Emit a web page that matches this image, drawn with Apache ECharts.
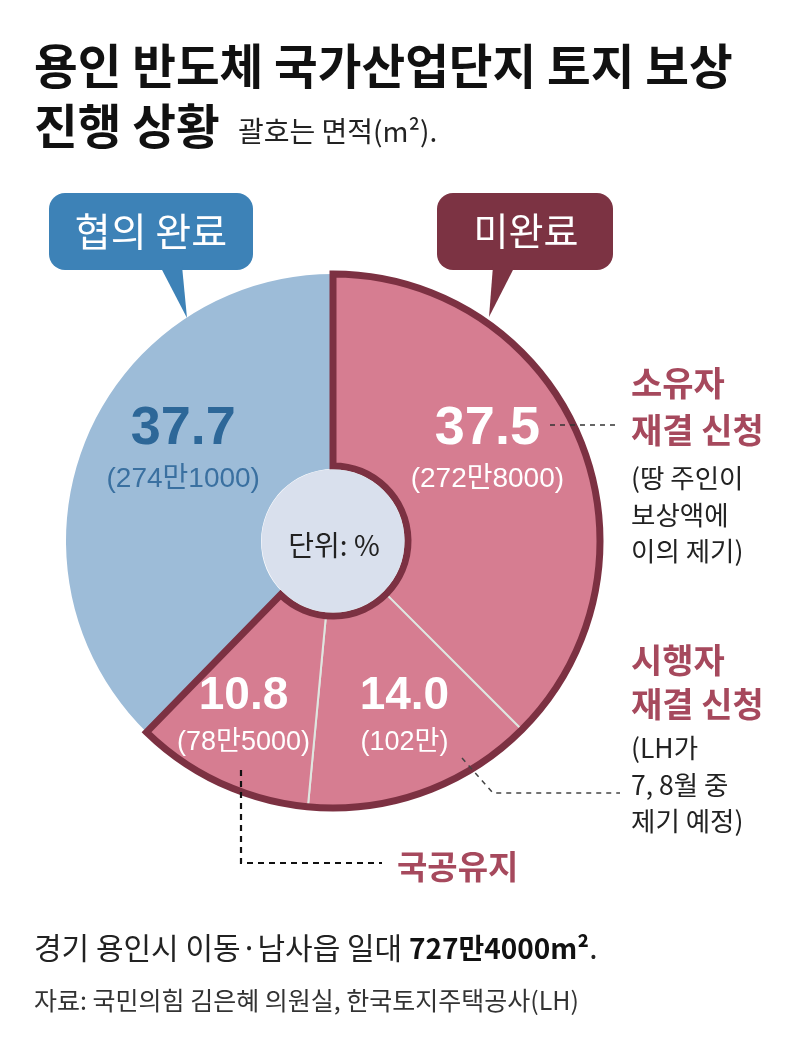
<!DOCTYPE html>
<html>
<head>
<meta charset="utf-8">
<script src="https://cdn.jsdelivr.net/npm/echarts@6/dist/echarts.min.js"></script>
<style>
  html, body { margin: 0; padding: 0; background: #fff; }
  #chart { width: 800px; height: 1064px; }
</style>
</head>
<body>
<div id="chart"></div>
<script>
// 진행 상황 (단위: %), 시계 방향으로 12시부터
const categories = ['소유자 재결 신청', '시행자 재결 신청', '국공유지', '협의 완료'];
const shares = [37.5, 14.0, 10.8, 37.7];
const areas = ['272만8000', '102만', '78만5000', '274만1000'];
const groups = ['미완료', '미완료', '미완료', '협의 완료'];
const groupNames = ['미완료', '협의 완료'];

const FONT = '"Noto Sans CJK KR", "Noto Sans", sans-serif';
const NUMFONT = '"Liberation Sans", "Noto Sans CJK KR", sans-serif';

const BLUE = '#9dbcd8';
const RED = '#d67d91';
const DARK = '#7c3142';

const chart = echarts.init(document.getElementById('chart'));

// 미완료 / 협의 완료 합계 (테두리용)
const groupTotals = groupNames.map(g =>
  shares.reduce((s, v, i) => (groups[i] === g ? s + v : s), 0)
);

const mainData = categories.map((name, i) => {
  const done = groups[i] === '협의 완료';
  const big = i === 0 || done;
  return {
    name: name,
    value: shares[i],
    itemStyle: {
      color: done ? BLUE : RED,
      borderColor: '#dfe6e0',
      borderWidth: done ? 0 : 2
    },
    label: {
      formatter: '{v|' + shares[i].toFixed(1) + '}\n{a|(' + areas[i] + ')}',
      rich: {
        v: {
          fontFamily: NUMFONT,
          fontWeight: 'bold',
          fontSize: big ? 54 : 46,
          lineHeight: big ? 66 : 58,
          color: done ? '#2d6798' : '#ffffff'
        },
        a: {
          fontFamily: NUMFONT,
          fontSize: big ? 28 : 27,
          lineHeight: 34,
          color: done ? '#3a70a0' : '#ffffff'
        }
      }
    }
  };
});

const labelShift = [[-5, -29], [13, 10], [-17, 16], [10, -30]];

const option = {
  backgroundColor: '#ffffff',
  animation: false,
  series: [
    {
      type: 'pie',
      silent: true,
      center: [333, 541],
      radius: [72, 267],
      startAngle: 90,
      clockwise: true,
      avoidLabelOverlap: false,
      label: { show: true, position: 'inside' },
      labelLine: { show: false },
      labelLayout: function (p) {
        const o = labelShift[p.dataIndex];
        return { dx: o[0], dy: o[1] };
      },
      data: mainData
    },
    {
      // 미완료 묶음 테두리
      type: 'pie',
      silent: true,
      center: [333, 541],
      radius: [75, 267],
      startAngle: 90,
      clockwise: true,
      label: { show: false },
      labelLine: { show: false },
      data: groupNames.map((g, i) => ({
        name: g,
        value: groupTotals[i],
        itemStyle: {
          color: 'rgba(0,0,0,0)',
          borderColor: DARK,
          borderWidth: g === '미완료' ? 7 : 0,
          borderJoin: 'miter'
        }
      }))
    }
  ],
  graphic: [
    // 제목
    { type: 'text', z: 100, style: { x: 34, y: 66, text: '용인 반도체 국가산업단지 토지 보상', font: 'bold 47.5px ' + FONT, fill: '#111', verticalAlign: 'middle' } },
    { type: 'text', z: 100, style: { x: 34, y: 126, text: '진행 상황', font: 'bold 47.5px ' + FONT, fill: '#111', verticalAlign: 'middle' } },
    { type: 'text', z: 100, style: { x: 238, y: 131, text: '괄호는 면적(m²).', font: '28px ' + FONT, fill: '#222', verticalAlign: 'middle' } },

    // 말풍선
    { type: 'rect', z: 100, shape: { x: 49, y: 193, width: 204, height: 77, r: 16 }, style: { fill: '#3d82b7' } },
    { type: 'polygon', z: 100, shape: { points: [[160, 266], [182, 266], [187, 318]] }, style: { fill: '#3d82b7' } },
    { type: 'text', z: 101, style: { x: 151, y: 231, text: '협의 완료', font: '39px ' + FONT, fill: '#fff', align: 'center', verticalAlign: 'middle' } },
    { type: 'rect', z: 100, shape: { x: 437, y: 193, width: 176, height: 77, r: 16 }, style: { fill: '#7c3343' } },
    { type: 'polygon', z: 100, shape: { points: [[493, 266], [515, 266], [489, 317]] }, style: { fill: '#7c3343' } },
    { type: 'text', z: 101, style: { x: 526, y: 231, text: '미완료', font: '38px ' + FONT, fill: '#fff', align: 'center', verticalAlign: 'middle' } },

    // 가운데 원
    { type: 'circle', z: 100, shape: { cx: 333, cy: 541, r: 71.5 }, style: { fill: '#d9e0ed' } },
    { type: 'text', z: 101, style: { x: 334, y: 545, text: '단위: %', font: '28px ' + FONT, fill: '#222', align: 'center', verticalAlign: 'middle' } },

    // 오른쪽 설명
    { type: 'text', z: 100, style: { x: 631, y: 383, text: '소유자', font: 'bold 34px ' + FONT, fill: '#a6495d', verticalAlign: 'middle' } },
    { type: 'text', z: 100, style: { x: 631, y: 430, text: '재결 신청', font: 'bold 34px ' + FONT, fill: '#a6495d', verticalAlign: 'middle' } },
    { type: 'text', z: 100, style: { x: 631, y: 478, text: '(땅 주인이', font: '26.5px ' + FONT, fill: '#222', verticalAlign: 'middle' } },
    { type: 'text', z: 100, style: { x: 631, y: 515, text: '보상액에', font: '26.5px ' + FONT, fill: '#222', verticalAlign: 'middle' } },
    { type: 'text', z: 100, style: { x: 631, y: 551, text: '이의 제기)', font: '26.5px ' + FONT, fill: '#222', verticalAlign: 'middle' } },

    { type: 'text', z: 100, style: { x: 631, y: 660, text: '시행자', font: 'bold 34px ' + FONT, fill: '#a6495d', verticalAlign: 'middle' } },
    { type: 'text', z: 100, style: { x: 631, y: 704, text: '재결 신청', font: 'bold 34px ' + FONT, fill: '#a6495d', verticalAlign: 'middle' } },
    { type: 'text', z: 100, style: { x: 631, y: 748, text: '(LH가', font: '26.5px ' + FONT, fill: '#222', verticalAlign: 'middle' } },
    { type: 'text', z: 100, style: { x: 631, y: 785, text: '7, 8월 중', font: '26.5px ' + FONT, fill: '#222', verticalAlign: 'middle' } },
    { type: 'text', z: 100, style: { x: 631, y: 821, text: '제기 예정)', font: '26.5px ' + FONT, fill: '#222', verticalAlign: 'middle' } },

    { type: 'text', z: 100, style: { x: 397, y: 866, text: '국공유지', font: 'bold 33px ' + FONT, fill: '#a6495d', verticalAlign: 'middle' } },

    // 점선
    { type: 'polyline', z: 100, shape: { points: [[550, 425], [620, 425]] }, style: { stroke: '#333', lineWidth: 1.3, lineDash: [5, 5], fill: null } },
    { type: 'polyline', z: 100, shape: { points: [[462, 758], [493, 793], [620, 793]] }, style: { stroke: '#444', lineWidth: 1.5, lineDash: [5, 5], fill: null } },
    { type: 'polyline', z: 100, shape: { points: [[241, 770], [241, 863], [382, 863]] }, style: { stroke: '#111', lineWidth: 2.2, lineDash: [6, 5], fill: null } },

    // 하단
    {
      type: 'text', z: 100,
      style: {
        x: 34, y: 948,
        text: '경기 용인시 이동·남사읍 일대 {b|727만4000m²}.',
        font: '30px ' + FONT, fill: '#222', verticalAlign: 'middle',
        rich: { b: { fontFamily: FONT, fontSize: 28, fontWeight: 'bold', fill: '#111' } }
      }
    },
    { type: 'text', z: 100, style: { x: 34, y: 1000, text: '자료: 국민의힘 김은혜 의원실, 한국토지주택공사(LH)', font: '25px ' + FONT, fill: '#333', verticalAlign: 'middle' } }
  ]
};

chart.setOption(option);
</script>
</body>
</html>
